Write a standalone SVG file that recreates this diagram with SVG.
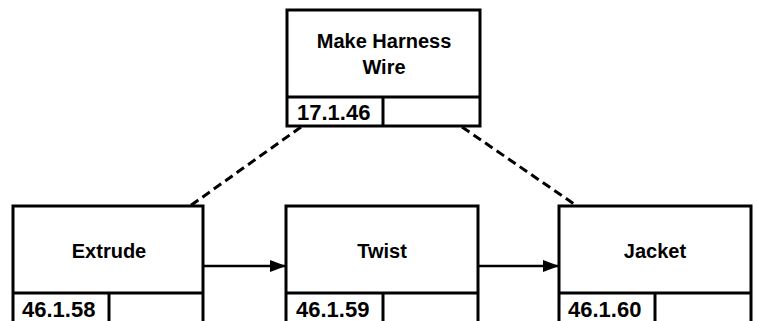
<svg xmlns="http://www.w3.org/2000/svg" width="757" height="321" viewBox="0 0 757 321">
<defs>
<style>
.box{fill:#fff;stroke:#000;stroke-width:3}
.div{stroke:#000;stroke-width:3;fill:none}
.lbl{font-family:"Liberation Sans",Arial,sans-serif;font-size:20px;font-weight:bold;fill:#000;text-anchor:middle}
.num{font-family:"Liberation Sans",Arial,sans-serif;font-size:22px;font-weight:bold;fill:#000}
.dash{stroke:#000;stroke-width:3;stroke-dasharray:9,5;fill:none}
.arr{stroke:#000;stroke-width:2.5;fill:none;marker-end:url(#ah)}
</style>
<marker id="ah" viewBox="0 0 16 12" refX="16" refY="6" markerWidth="16" markerHeight="12" markerUnits="userSpaceOnUse" orient="auto">
<path d="M0,0 L16,6 L0,12 z" fill="#000"/>
</marker>
</defs>
<g id="connectors">
<line class="dash" x1="301" y1="127" x2="190" y2="206"/>
<line class="dash" x1="462" y1="127" x2="577" y2="206"/>
<line class="arr" x1="203" y1="266" x2="286" y2="266"/>
<line class="arr" x1="478" y1="266" x2="559" y2="266"/>
</g>
<g id="make-harness-wire">
<rect class="box" x="287" y="10" width="193" height="116"/>
<line class="div" x1="287" y1="97" x2="480" y2="97"/>
<line class="div" x1="383" y1="97" x2="383" y2="126"/>
<text class="lbl" x="384" y="48">Make Harness</text>
<text class="lbl" x="384" y="74">Wire</text>
<text class="num" x="297" y="120">17.1.46</text>
</g>
<g id="extrude">
<rect class="box" x="13" y="206" width="190" height="140"/>
<line class="div" x1="13" y1="293" x2="203" y2="293"/>
<line class="div" x1="109" y1="293" x2="109" y2="346"/>
<text class="lbl" x="109" y="258">Extrude</text>
<text class="num" x="22" y="317">46.1.58</text>
</g>
<g id="twist">
<rect class="box" x="286" y="206" width="192" height="140"/>
<line class="div" x1="286" y1="293" x2="478" y2="293"/>
<line class="div" x1="383" y1="293" x2="383" y2="346"/>
<text class="lbl" x="382" y="258">Twist</text>
<text class="num" x="296" y="317">46.1.59</text>
</g>
<g id="jacket">
<rect class="box" x="559" y="206" width="192" height="140"/>
<line class="div" x1="559" y1="293" x2="751" y2="293"/>
<line class="div" x1="655" y1="293" x2="655" y2="346"/>
<text class="lbl" x="655" y="258">Jacket</text>
<text class="num" x="568" y="317">46.1.60</text>
</g>
</svg>
